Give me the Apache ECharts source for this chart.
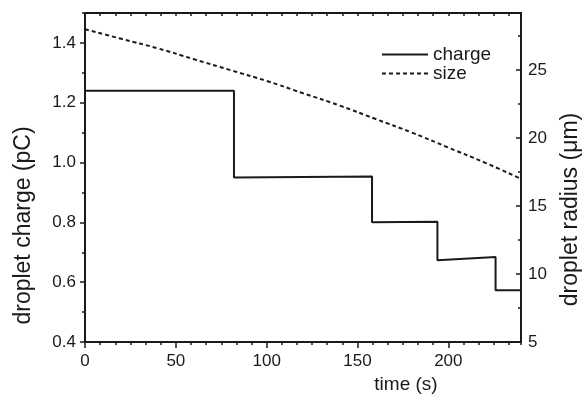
<!DOCTYPE html>
<html>
<head>
<meta charset="utf-8">
<title>droplet charge and size</title>
<script src="https://cdn.jsdelivr.net/npm/echarts@6/dist/echarts.min.js"></script>
<style>
  html, body { margin: 0; padding: 0; background: #fff; }
  #main { width: 584px; height: 396px; }
</style>
</head>
<body>
<div id="main"></div>
<script type="text/javascript">
// step trace of the droplet charge (time in s, charge in pC)
var chargeTime = [0, 82, 82, 158, 158, 194, 194, 226, 226, 240];
var chargeVal  = [1.24, 1.24, 0.95, 0.953, 0.80, 0.802, 0.673, 0.684, 0.573, 0.573];

// droplet radius (time in s, radius in um)
var sizeTime = [0, 20, 40, 60, 80, 100, 120, 140, 160, 180, 200, 220, 240];
var sizeVal  = [28.0, 27.3, 26.6, 25.8, 25.0, 24.2, 23.3, 22.4, 21.4, 20.4, 19.3, 18.2, 17.0];

var seriesNames = ['charge', 'size'];

function pairs(xs, ys) {
    var out = [];
    for (var i = 0; i < xs.length; i++) out.push([xs[i], ys[i]]);
    return out;
}

var ink = '#1a1a1a';
var fontFam = '"Liberation Sans", Arial, Helvetica, sans-serif';

var myChart = echarts.init(document.getElementById('main'));

var option = {
    animation: false,
    backgroundColor: '#fff',
    textStyle: { fontFamily: fontFam, color: ink },
    grid: { left: 85, right: 63, top: 13, bottom: 54, containLabel: false, outerBoundsMode: 'none' },
    legend: {
        data: seriesNames,
        orient: 'vertical',
        left: 376,
        top: 40,
        itemWidth: 46,
        itemHeight: 10,
        itemGap: 0,
        itemStyle: { opacity: 0 },   // line only, no marker
        textStyle: { fontSize: 19, color: ink, fontFamily: fontFam }
    },
    xAxis: [
        {   // main time axis with labels
            type: 'value', position: 'bottom',
            min: 0, max: 240, interval: 50,
            name: 'time (s)', nameLocation: 'middle', nameGap: 25,
            nameTextStyle: { fontSize: 19, color: ink, padding: [0, 0, 0, 206] },
            axisLine: { onZero: false, lineStyle: { color: ink, width: 2 } },
            axisTick: { inside: false, length: 6, lineStyle: { color: ink, width: 1.5 } },
            axisLabel: { fontSize: 17, color: ink, margin: 11, showMaxLabel: false },
            splitLine: { show: false }
        },
        {   // small ticks along the bottom
            type: 'value', position: 'bottom',
            min: 0, max: 240, interval: 50 / 6,
            axisLine: { show: false, onZero: false },
            axisTick: { inside: false, length: 3, lineStyle: { color: ink, width: 1.5 } },
            axisLabel: { show: false },
            splitLine: { show: false }
        },
        {   // top frame with inward ticks
            type: 'value', position: 'top',
            min: 0, max: 240, interval: 50 / 6,
            axisLine: { onZero: false, lineStyle: { color: ink, width: 2 } },
            axisTick: { inside: true, length: 3, lineStyle: { color: ink, width: 1.5 } },
            axisLabel: { show: false },
            splitLine: { show: false }
        }
    ],
    yAxis: [
        {
            type: 'value', position: 'left',
            min: 0.4, max: 1.5, interval: 0.2,
            name: 'droplet charge (pC)', nameLocation: 'middle', nameGap: 50,
            nameTextStyle: { fontSize: 23, color: ink, padding: [0, 96, 0, 0] },
            axisLine: { onZero: false, lineStyle: { color: ink, width: 2 } },
            axisTick: { inside: false, length: 5, lineStyle: { color: ink, width: 1.5 } },
            axisLabel: {
                fontSize: 17, color: ink, margin: 9, showMaxLabel: false,
                formatter: function (v) { return v.toFixed(1); }
            },
            splitLine: { show: false }
        },
        {
            type: 'value', position: 'right',
            min: 5, max: 29.2, interval: 5,
            name: 'droplet radius (μm)', nameLocation: 'middle', nameGap: 38,
            nameRotate: 90,
            nameTextStyle: { fontSize: 23, color: ink, padding: [0, 64, 0, 0] },
            axisLine: { onZero: false, lineStyle: { color: ink, width: 2 } },
            axisTick: { inside: true, length: 5, lineStyle: { color: ink, width: 1.5 } },
            axisLabel: { fontSize: 17, color: ink, margin: 7, showMaxLabel: false },
            splitLine: { show: false }
        },
        {   // minor ticks, left
            type: 'value', position: 'left',
            min: 0.4, max: 1.5, interval: 0.1,
            axisLine: { show: false, onZero: false },
            axisTick: { inside: false, length: 3, lineStyle: { color: ink, width: 1.5 } },
            axisLabel: { show: false },
            splitLine: { show: false }
        },
        {   // minor ticks, right
            type: 'value', position: 'right',
            min: 5, max: 29.2, interval: 2.5,
            axisLine: { show: false, onZero: false },
            axisTick: { inside: true, length: 3, lineStyle: { color: ink, width: 1.5 } },
            axisLabel: { show: false },
            splitLine: { show: false }
        }
    ],
    series: [
        {
            name: seriesNames[0],
            type: 'line',
            xAxisIndex: 0, yAxisIndex: 0,
            symbol: 'none',
            lineStyle: { color: ink, width: 2, type: 'solid' },
            itemStyle: { color: ink },
            data: pairs(chargeTime, chargeVal)
        },
        {
            name: seriesNames[1],
            type: 'line',
            xAxisIndex: 0, yAxisIndex: 1,
            symbol: 'none',
            smooth: true,
            lineStyle: { color: ink, width: 2, type: [4, 3] },
            itemStyle: { color: ink },
            data: pairs(sizeTime, sizeVal)
        }
    ]
};

myChart.setOption(option);
window.addEventListener('resize', function () { myChart.resize(); });
</script>
</body>
</html>
